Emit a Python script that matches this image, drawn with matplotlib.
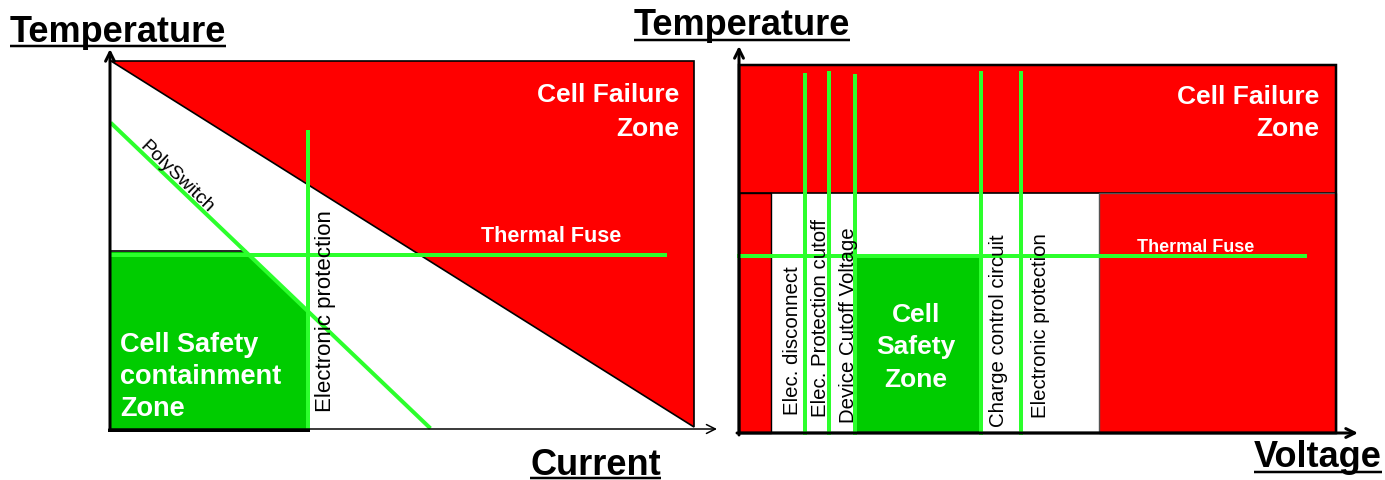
import numpy as np
import matplotlib
matplotlib.use("Agg")
from matplotlib import pyplot as plt
from matplotlib.patches import Polygon, Rectangle

plt.rcParams['font.family'] = ['Liberation Sans', 'DejaVu Sans']

RED = '#ff0000'
SAFE = '#00cc00'
LIME = '#2cff2c'

# ---- left panel: temperature vs current (pixel units of the slide) ----
left_frame = [111, 694, 62, 430]          # x0, x1, top, bottom
polyswitch_x = [112, 429]
polyswitch_y = [125, 428]
thermal_fuse_left = [112, 665, 256]       # x0, x1, y
elec_prot_left = [308, 133, 430]          # x, top, bottom
safe_box_left = [111, 308, 253, 430]      # x0, x1, top, bottom

# ---- right panel: temperature vs voltage ----
right_frame = [739, 1336, 66, 434]
failure_band_bottom = 194
red_strip = [739, 771]
white_zone = [771, 1099]
safe_box_right = [857, 980, 258, 433]
thermal_fuse_right = [739, 1305, 257]
cutoff_names = ["Elec. disconnect", "Elec. Protection cutoff", "Device Cutoff Voltage",
                "Charge control circuit", "Electronic protection"]
cutoff_x = [805, 829, 855, 981, 1021]
cutoff_top = [76, 74, 77, 74, 74]
cutoff_label_x = [792, 821, 848, 999, 1040]
cutoff_label_bottom = [415, 417, 423, 427, 418]

# axis titles: text, left x, baseline y, underline y
titles = ["Temperature", "Current", "Temperature", "Voltage"]
title_x = [10, 530, 634, 1254]
title_base = [42, 475, 35, 467]
title_uline = [47, 479, 41, 473]


fig = plt.figure(figsize=(13.85, 4.81), dpi=100)
ax = fig.add_axes([0, 0, 1, 1])
ax.set_xlim(0, 1385)
ax.set_ylim(481, 0)
ax.axis('off')

px = 0.72  # one pixel in points


def arrow(x_from, y_from, x_to, y_to, width):
    ax.annotate('', xy=(x_to, y_to), xytext=(x_from, y_from),
                arrowprops=dict(arrowstyle='->', lw=width * px, color='black',
                                shrinkA=0, shrinkB=0, mutation_scale=16), zorder=5)


# left: failure triangle
x0, x1, top, bot = left_frame
ax.add_patch(Polygon([(x0, top), (x1, top), (x1, bot - 2)], closed=True,
                     facecolor=RED, edgecolor='black', lw=1.2, zorder=1))

# safety zone clipped by the polyswitch line
sx0, sx1, stop, sbot = safe_box_left
slope = (polyswitch_y[1] - polyswitch_y[0]) / (polyswitch_x[1] - polyswitch_x[0])
cut_x = polyswitch_x[0] + (stop - polyswitch_y[0]) / slope
cut_y = polyswitch_y[0] + (sx1 - polyswitch_x[0]) * slope
ax.add_patch(Polygon([(sx0, stop), (cut_x, stop), (sx1, cut_y), (sx1, sbot), (sx0, sbot)],
                     closed=True, facecolor=SAFE, edgecolor='none', zorder=2))
ax.plot([sx0, cut_x], [stop - 1, stop - 1], color='black', lw=1.2, zorder=2)

ax.plot(polyswitch_x, polyswitch_y, color=LIME, lw=4 * px, zorder=4)
ax.plot(thermal_fuse_left[:2], [thermal_fuse_left[2]] * 2, color=LIME, lw=4 * px, zorder=4)
ax.plot([elec_prot_left[0]] * 2, elec_prot_left[1:], color=LIME, lw=4 * px, zorder=4)

# left axes with arrows
arrow(110, 431, 110, 50, 3)
arrow(109, 430, 717, 430, 1.5)
ax.plot([109, sx1], [431, 431], color='black', lw=3 * px, zorder=5)

ax.text(679, 95, "Cell Failure", color='white', fontsize=19, fontweight='bold', ha='right', va='center')
ax.text(679, 129, "Zone", color='white', fontsize=19, fontweight='bold', ha='right', va='center')
ax.text(551, 237, "Thermal Fuse", color='white', fontsize=15.5, fontweight='bold', ha='center', va='center')
for i, line in enumerate(["Cell Safety", "containment", "Zone"]):
    ax.text(120, 345 + 32 * i, line, color='white', fontsize=19.5, fontweight='bold',
            ha='left', va='center', zorder=6)
ax.text(325, 412, "Electronic protection", rotation=90, fontsize=16, ha='center', va='bottom', zorder=6)
ps_mid = 172
ps_y = polyswitch_y[0] + (ps_mid - polyswitch_x[0]) * slope
ax.text(ps_mid + 2, ps_y - 2, "PolySwitch", rotation=-44, rotation_mode='anchor', fontsize=14,
        ha='center', va='baseline', zorder=6)

# right panel
rx0, rx1, rtop, rbot = right_frame
ax.add_patch(Rectangle((rx0, rtop), rx1 - rx0, failure_band_bottom - rtop,
                       facecolor=RED, edgecolor='black', lw=1.2, zorder=1))
ax.add_patch(Rectangle((red_strip[0], failure_band_bottom), red_strip[1] - red_strip[0],
                       rbot - failure_band_bottom, facecolor=RED, edgecolor='black', lw=1.0, zorder=1))
ax.add_patch(Rectangle((white_zone[1], failure_band_bottom), rx1 - white_zone[1],
                       rbot - failure_band_bottom, facecolor=RED, edgecolor='#555555', lw=1.0, zorder=1))
ax.add_patch(Rectangle((rx0, rtop), rx1 - rx0, rbot - rtop, facecolor='none',
                       edgecolor='black', lw=2.5 * px, zorder=3))
bx0, bx1, btop, bbot = safe_box_right
ax.add_patch(Rectangle((bx0, btop), bx1 - bx0, bbot - btop, facecolor=SAFE,
                       edgecolor='none', zorder=2))
ax.plot([bx0, bx1], [bbot, bbot], color='#666666', lw=1, zorder=2)

ax.plot(thermal_fuse_right[:2], [thermal_fuse_right[2]] * 2, color=LIME, lw=4 * px, zorder=4)
for x, t in zip(cutoff_x, cutoff_top):
    ax.plot([x, x], [t, rbot], color=LIME, lw=4 * px, zorder=4)
for name, x, b in zip(cutoff_names, cutoff_label_x, cutoff_label_bottom):
    ax.text(x, b, name, rotation=90, fontsize=14.7, ha='center', va='bottom', zorder=6)

arrow(739, 436, 739, 47, 3)
arrow(737, 434, 1358, 434, 3)

ax.text(1319, 97, "Cell Failure", color='white', fontsize=19, fontweight='bold', ha='right', va='center')
ax.text(1319, 129, "Zone", color='white', fontsize=19, fontweight='bold', ha='right', va='center')
ax.text(1196, 248, "Thermal Fuse", color='white', fontsize=13, fontweight='bold', ha='center', va='center')
for i, line in enumerate(["Cell", "Safety", "Zone"]):
    ax.text(916, 315 + 32.5 * i, line, color='white', fontsize=19, fontweight='bold',
            ha='center', va='center', zorder=6)

# underlined axis titles
texts = [ax.text(x, y, s, fontsize=26, fontweight='bold', ha='left', va='baseline')
         for s, x, y in zip(titles, title_x, title_base)]
fig.canvas.draw()
inv = ax.transData.inverted()
for t, uy in zip(texts, title_uline):
    bb = t.get_window_extent()
    (ux0, _), (ux1, _) = inv.transform([(bb.x0, bb.y0), (bb.x1, bb.y0)])
    ax.plot([ux0, ux1], [uy, uy], color='black', lw=2.5 * px, solid_capstyle='butt')

fig.savefig("out.png", dpi=100)
